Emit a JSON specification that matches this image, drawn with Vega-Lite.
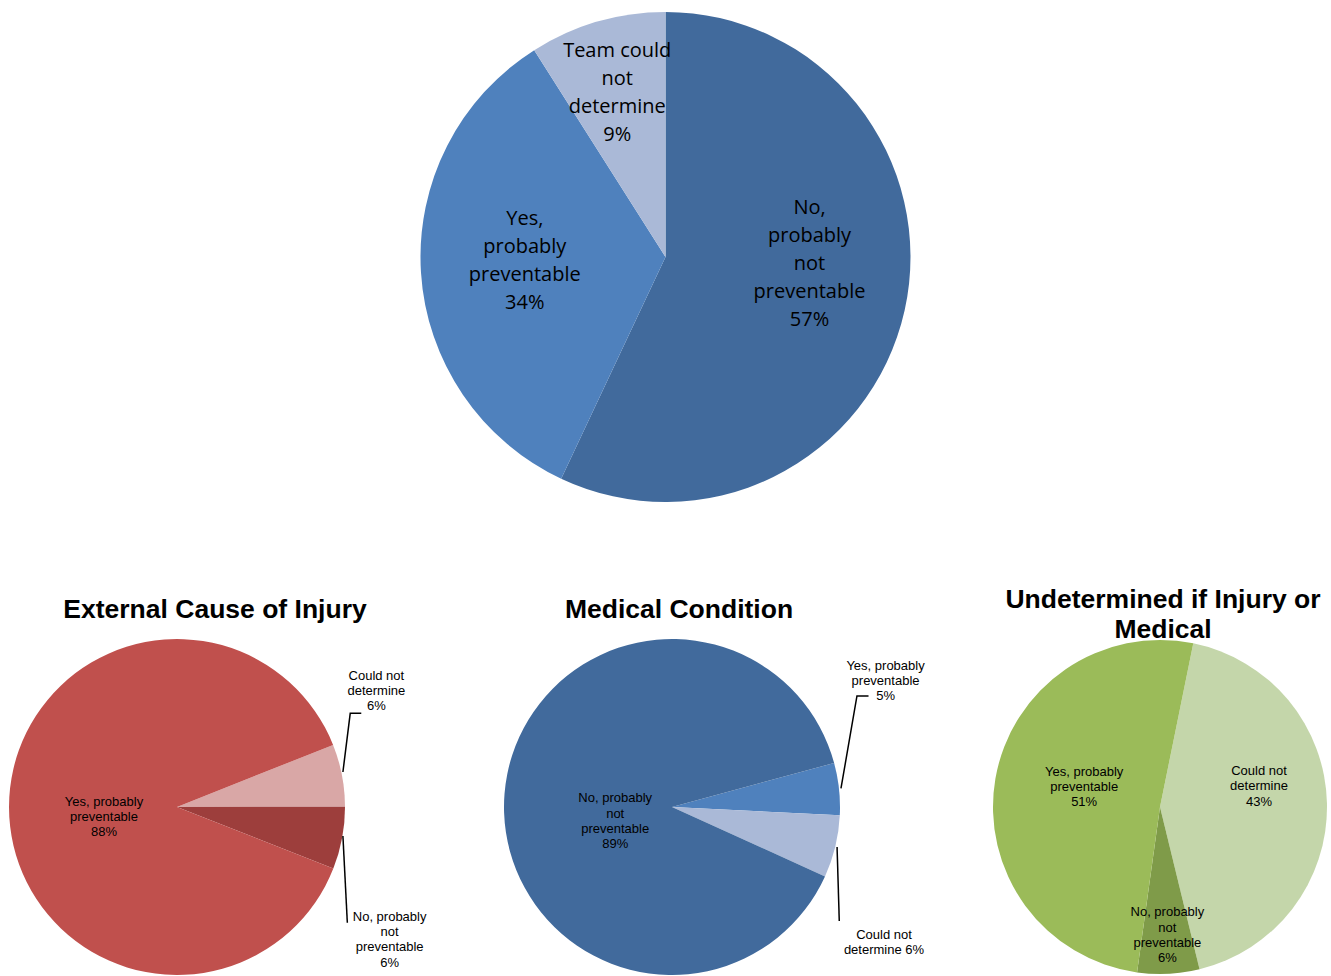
{
  "$schema": "https://vega.github.io/schema/vega-lite/v6.json",
  "padding": 0,
  "background": "white",
  "spacing": 125,
  "bounds": "flush",
  "config": {"view": {"stroke": null}},
  "resolve": {"scale": {"color": "independent", "theta": "independent", "x": "independent", "y": "independent"}},
  "datasets": {
    "top": [
      {"cat": "No, probably not preventable", "value": 57, "ord": 1, "label": "No,\nprobably\nnot\npreventable\n57%"},
      {"cat": "Yes, probably preventable", "value": 34, "ord": 2, "label": "Yes,\nprobably\npreventable\n34%"},
      {"cat": "Team could not determine", "value": 9, "ord": 3, "label": "Team could\nnot\ndetermine\n9%"}
    ],
    "ext": [
      {"cat": "Could not determine", "value": 6, "ord": 1, "label": "Could not\ndetermine\n6%"},
      {"cat": "No, probably not preventable", "value": 6, "ord": 2, "label": "No, probably\nnot\npreventable\n6%"},
      {"cat": "Yes, probably preventable", "value": 88, "ord": 3, "label": "Yes, probably\npreventable\n88%"}
    ],
    "med": [
      {"cat": "Yes, probably preventable", "value": 5, "ord": 1, "label": "Yes, probably\npreventable\n5%"},
      {"cat": "Could not determine", "value": 6, "ord": 2, "label": "Could not\ndetermine 6%"},
      {"cat": "No, probably not preventable", "value": 89, "ord": 3, "label": "No, probably\nnot\npreventable\n89%"}
    ],
    "und": [
      {"cat": "Could not determine", "value": 43, "ord": 1, "label": "Could not\ndetermine\n43%"},
      {"cat": "No, probably not preventable", "value": 6, "ord": 2, "label": "No, probably\nnot\npreventable\n6%"},
      {"cat": "Yes, probably preventable", "value": 51, "ord": 3, "label": "Yes, probably\npreventable\n51%"}
    ],
    "extLines": [
      {"seg": "a", "pt": 1, "x": 0.976, "y": 0.206},
      {"seg": "a", "pt": 2, "x": 1.019, "y": 0.551},
      {"seg": "a", "pt": 3, "x": 1.084, "y": 0.551},
      {"seg": "b", "pt": 1, "x": 0.976, "y": -0.171},
      {"seg": "b", "pt": 2, "x": 1.002, "y": -0.681}
    ],
    "medLines": [
      {"seg": "a", "pt": 1, "x": 0.994, "y": 0.109},
      {"seg": "a", "pt": 2, "x": 1.088, "y": 0.653},
      {"seg": "a", "pt": 3, "x": 1.156, "y": 0.653},
      {"seg": "b", "pt": 1, "x": 0.971, "y": -0.235},
      {"seg": "b", "pt": 2, "x": 0.984, "y": -0.671}
    ]
  },
  "vconcat": [
    {
      "width": 1331,
      "height": 514,
      "data": {"name": "top"},
      "encoding": {
        "theta": {"field": "value", "type": "quantitative", "stack": true, "scale": {"range": [0, 6.2832]}},
        "order": {"field": "ord", "type": "quantitative"}
      },
      "layer": [
        {
          "mark": {"type": "arc", "radius": 245},
          "encoding": {
            "color": {"field": "cat", "type": "nominal", "legend": null,
              "scale": {"domain": ["No, probably not preventable", "Yes, probably preventable", "Team could not determine"], "range": ["#416A9C", "#4F81BD", "#AAB9D7"]}}
          }
        },
        {
          "mark": {"type": "text", "font": "Open Sans", "fontSize": 20, "lineHeight": 28, "lineBreak": "\n", "align": "center", "baseline": "middle", "color": "black",
            "radius": {"expr": "datum.cat === 'No, probably not preventable' ? 144 : datum.cat === 'Yes, probably preventable' ? 141 : 173"},
            "dx": {"expr": "datum.cat === 'No, probably not preventable' ? 3.5 : 0"},
            "dy": {"expr": "datum.cat === 'No, probably not preventable' ? -80.5 : datum.cat === 'Yes, probably preventable' ? -47 : -40"}},
          "encoding": {"detail": {"field": "cat"}, "text": {"field": "label", "type": "nominal"}}
        }
      ]
    },
    {
      "hconcat": [
        {
          "width": 354,
          "height": 336,
          "title": {"text": "External Cause of Injury", "font": "Liberation Sans", "fontSize": 26.5, "fontWeight": "bold", "color": "black", "anchor": "middle", "dx": 38, "offset": 16},
          "layer": [
            {
              "data": {"name": "ext"},
              "encoding": {
                "theta": {"field": "value", "type": "quantitative", "stack": true, "scale": {"range": [1.1921, 7.4753]}},
                "order": {"field": "ord", "type": "quantitative"}
              },
              "layer": [
                {
                  "mark": {"type": "arc", "radius": 168},
                  "encoding": {
                    "color": {"field": "cat", "type": "nominal", "legend": null,
                      "scale": {"domain": ["Yes, probably preventable", "Could not determine", "No, probably not preventable"], "range": ["#C0504D", "#D9A7A6", "#9D3E3C"]}}
                  }
                },
                {
                  "mark": {"type": "text", "font": "Liberation Sans", "fontSize": 13, "lineHeight": 15.3, "lineBreak": "\n", "align": "center", "baseline": "middle", "color": "black",
                    "radius": {"expr": "datum.cat === 'Could not determine' ? 229.5 : datum.cat === 'No, probably not preventable' ? 252 : 74"},
                    "dx": {"expr": "datum.cat === 'Could not determine' ? -26 : datum.cat === 'No, probably not preventable' ? -35 : 1"},
                    "dy": {"expr": "datum.cat === 'Could not determine' ? -88 : datum.cat === 'No, probably not preventable' ? 63 : -5.5"}},
                  "encoding": {"detail": {"field": "cat"}, "text": {"field": "label", "type": "nominal"}}
                }
              ]
            },
            {
              "data": {"name": "extLines"},
              "mark": {"type": "line", "color": "black", "strokeWidth": 1.5},
              "encoding": {
                "x": {"field": "x", "type": "quantitative", "axis": null, "scale": {"domain": [-1.0412, 1.0412], "nice": false, "zero": false}},
                "y": {"field": "y", "type": "quantitative", "axis": null, "scale": {"domain": [-0.9882, 0.9882], "nice": false, "zero": false}},
                "detail": {"field": "seg"},
                "order": {"field": "pt", "type": "quantitative"}
              }
            }
          ]
        },
        {
          "width": 636,
          "height": 336,
          "title": {"text": "Medical Condition", "font": "Liberation Sans", "fontSize": 26.5, "fontWeight": "bold", "color": "black", "anchor": "middle", "dx": 7, "offset": 16},
          "layer": [
            {
              "data": {"name": "med"},
              "encoding": {
                "theta": {"field": "value", "type": "quantitative", "stack": true, "scale": {"range": [1.3055, 7.5887]}},
                "order": {"field": "ord", "type": "quantitative"}
              },
              "layer": [
                {
                  "mark": {"type": "arc", "radius": 168},
                  "encoding": {
                    "color": {"field": "cat", "type": "nominal", "legend": null,
                      "scale": {"domain": ["No, probably not preventable", "Yes, probably preventable", "Could not determine"], "range": ["#416A9C", "#4F81BD", "#AAB9D7"]}}
                  }
                },
                {
                  "mark": {"type": "text", "font": "Liberation Sans", "fontSize": 13, "lineHeight": 15.3, "lineBreak": "\n", "align": "center", "baseline": "middle", "color": "black",
                    "radius": {"expr": "datum.cat === 'Yes, probably preventable' ? 249 : datum.cat === 'Could not determine' ? 250 : 58"},
                    "dx": {"expr": "datum.cat === 'Yes, probably preventable' ? -34 : datum.cat === 'Could not determine' ? -31 : 1"},
                    "dy": {"expr": "datum.cat === 'Yes, probably preventable' ? -114.5 : datum.cat === 'Could not determine' ? 69.4 : -4"}},
                  "encoding": {"detail": {"field": "cat"}, "text": {"field": "label", "type": "nominal"}}
                }
              ]
            },
            {
              "data": {"name": "medLines"},
              "mark": {"type": "line", "color": "black", "strokeWidth": 1.5},
              "encoding": {
                "x": {"field": "x", "type": "quantitative", "axis": null, "scale": {"domain": [-1.8706, 1.8706], "nice": false, "zero": false}},
                "y": {"field": "y", "type": "quantitative", "axis": null, "scale": {"domain": [-0.9882, 0.9882], "nice": false, "zero": false}},
                "detail": {"field": "seg"},
                "order": {"field": "pt", "type": "quantitative"}
              }
            }
          ]
        },
        {
          "width": 340,
          "height": 336,
          "title": {"text": ["Undetermined if Injury or", "Medical"], "font": "Liberation Sans", "fontSize": 26.5, "fontWeight": "bold", "color": "black", "anchor": "middle", "dx": 3, "offset": -4, "lineHeight": 30},
          "data": {"name": "und"},
          "encoding": {
            "theta": {"field": "value", "type": "quantitative", "stack": true, "scale": {"range": [0.2007, 6.4839]}},
            "order": {"field": "ord", "type": "quantitative"}
          },
          "layer": [
            {
              "mark": {"type": "arc", "radius": 167},
              "encoding": {
                "color": {"field": "cat", "type": "nominal", "legend": null,
                  "scale": {"domain": ["Yes, probably preventable", "Could not determine", "No, probably not preventable"], "range": ["#9BBB59", "#C4D6AA", "#7F9B49"]}}
              }
            },
            {
              "mark": {"type": "text", "font": "Liberation Sans", "fontSize": 13, "lineHeight": 15.3, "lineBreak": "\n", "align": "center", "baseline": "middle", "color": "black",
                "radius": {"expr": "datum.cat === 'Could not determine' ? 101 : datum.cat === 'No, probably not preventable' ? 126 : 80"},
                "dx": {"expr": "datum.cat === 'Could not determine' ? -2 : datum.cat === 'No, probably not preventable' ? 1 : 3"},
                "dy": {"expr": "datum.cat === 'Could not determine' ? -34 : datum.cat === 'No, probably not preventable' ? -20.5 : -22"}},
              "encoding": {"detail": {"field": "cat"}, "text": {"field": "label", "type": "nominal"}}
            }
          ]
        }
      ],
      "spacing": 0,
      "bounds": "flush",
      "resolve": {"scale": {"color": "independent", "theta": "independent", "x": "independent", "y": "independent"}}
    }
  ]
}
